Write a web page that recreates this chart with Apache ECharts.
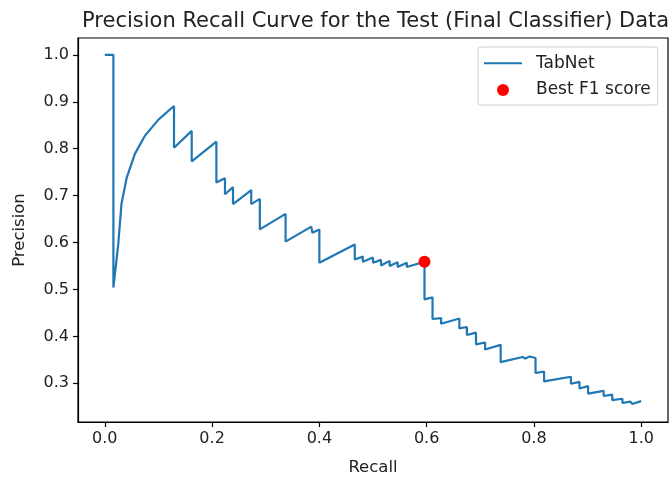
<!DOCTYPE html>
<html>
<head>
<meta charset="utf-8">
<script src="https://cdn.jsdelivr.net/npm/echarts@6/dist/echarts.min.js"></script>
<style>html,body{margin:0;padding:0;background:#fff}#c{width:669px;height:477px}</style>
</head>
<body>
<div id="c"></div>
<script>
// Recall values of the TabNet precision-recall curve
const recall = [
  0.0, 0.016, 0.016, 0.025, 0.031, 0.041, 0.056, 0.075, 0.100, 0.129,
  0.129, 0.162, 0.162, 0.208, 0.208, 0.224, 0.224, 0.239, 0.239, 0.273,
  0.273, 0.289, 0.289, 0.337, 0.337, 0.385, 0.387, 0.400, 0.400, 0.466,
  0.466, 0.481, 0.481, 0.500, 0.500, 0.515, 0.515, 0.531, 0.531, 0.546,
  0.546, 0.563, 0.563, 0.596, 0.596, 0.611, 0.611, 0.627, 0.627, 0.661,
  0.661, 0.675, 0.675, 0.692, 0.692, 0.709, 0.709, 0.738, 0.738, 0.779,
  0.784, 0.792, 0.803, 0.803, 0.819, 0.819, 0.869, 0.869, 0.885, 0.885,
  0.901, 0.901, 0.930, 0.930, 0.946, 0.946, 0.965, 0.965, 0.980, 0.983,
  1.0
];
// Precision values of the TabNet precision-recall curve
const precision = [
  1.0, 1.0, 0.504, 0.596, 0.682, 0.739, 0.789, 0.828, 0.862, 0.891,
  0.802, 0.838, 0.773, 0.815, 0.728, 0.737, 0.703, 0.718, 0.682, 0.712,
  0.682, 0.693, 0.628, 0.661, 0.602, 0.634, 0.621, 0.628, 0.557, 0.596,
  0.564, 0.570, 0.559, 0.568, 0.557, 0.563, 0.551, 0.561, 0.550, 0.558,
  0.548, 0.557, 0.548, 0.559, 0.479, 0.483, 0.437, 0.439, 0.427, 0.438,
  0.417, 0.420, 0.403, 0.408, 0.383, 0.387, 0.372, 0.382, 0.345, 0.356,
  0.353, 0.357, 0.354, 0.322, 0.325, 0.304, 0.314, 0.299, 0.303, 0.289,
  0.294, 0.278, 0.284, 0.273, 0.276, 0.264, 0.267, 0.258, 0.261, 0.256,
  0.262
];
// Best F1 score point [recall, precision]
const bestF1 = [0.596, 0.559];
// Tick labels
const xTicks = [0.0, 0.2, 0.4, 0.6, 0.8, 1.0];
const yTicks = [0.3, 0.4, 0.5, 0.6, 0.7, 0.8, 0.9, 1.0];
const titleText = 'Precision Recall Curve for the Test (Final Classifier) Data';
const seriesNames = ['TabNet', 'Best F1 score'];

const curve = recall.map((r, i) => [r, precision[i]]);
const FONT = 'DejaVu Sans';
const TXT = '#222';
const FS = 16;

const chart = echarts.init(document.getElementById('c'), null, {renderer: 'canvas'});
chart.setOption({
  animation: false,
  backgroundColor: '#fff',
  title: {
    text: titleText,
    left: 77, top: 6,
    textStyle: {fontFamily: FONT, fontSize: 21, fontWeight: 'normal', color: TXT}
  },
  grid: {
    left: 78, right: 1, top: 38, bottom: 55,
    outerBoundsMode: 'none',
    show: true, borderColor: '#000', borderWidth: 1.2, backgroundColor: 'transparent'
  },
  legend: {
    orient: 'vertical',
    left: 478, top: 47,
    padding: [7.8, 7, 6.5, 5],
    itemGap: 9.7,
    itemWidth: 38, itemHeight: 12,
    borderColor: '#d0d0d0', borderWidth: 1, borderRadius: 3,
    backgroundColor: 'rgba(255,255,255,0.8)',
    textStyle: {fontFamily: FONT, fontSize: 17, color: TXT, lineHeight: 17, padding: [0, 0, 0, 9]},
    data: [
      {name: seriesNames[0], itemStyle: {opacity: 0}},
      {name: seriesNames[1], icon: 'circle', itemStyle: {opacity: 1}}
    ]
  },
  xAxis: {
    type: 'value',
    min: -0.05, max: 1.05,
    name: 'Recall',
    nameLocation: 'middle', nameGap: 37,
    nameTextStyle: {fontFamily: FONT, fontSize: 16.5, color: TXT},
    axisLine: {show: true, onZero: false, lineStyle: {color: '#000', width: 1.2}},
    axisTick: {show: true, length: 5, lineStyle: {color: '#000', width: 1.2}, customValues: xTicks},
    axisLabel: {
      fontFamily: FONT, fontSize: FS, color: TXT, margin: 9,
      customValues: xTicks,
      formatter: v => v.toFixed(1)
    },
    splitLine: {show: false}
  },
  yAxis: {
    type: 'value',
    min: 0.2175, max: 1.036,
    name: 'Precision',
    nameLocation: 'middle', nameGap: 50,
    nameTextStyle: {fontFamily: FONT, fontSize: 16.5, color: TXT},
    axisLine: {show: true, onZero: false, lineStyle: {color: '#000', width: 1.2}},
    axisTick: {show: true, length: 5, lineStyle: {color: '#000', width: 1.2}, customValues: yTicks},
    axisLabel: {
      fontFamily: FONT, fontSize: FS, color: TXT, margin: 9,
      customValues: yTicks,
      formatter: v => v.toFixed(1)
    },
    splitLine: {show: false}
  },
  series: [
    {
      name: seriesNames[0],
      type: 'line',
      data: curve,
      symbol: 'none',
      lineStyle: {color: '#1f77b4', width: 2.2},
      itemStyle: {color: '#1f77b4'},
      z: 2
    },
    {
      name: seriesNames[1],
      type: 'scatter',
      data: [bestF1],
      symbol: 'circle',
      symbolSize: 12,
      itemStyle: {color: '#ff0000', opacity: 1},
      z: 3
    }
  ]
});
</script>
</body>
</html>
